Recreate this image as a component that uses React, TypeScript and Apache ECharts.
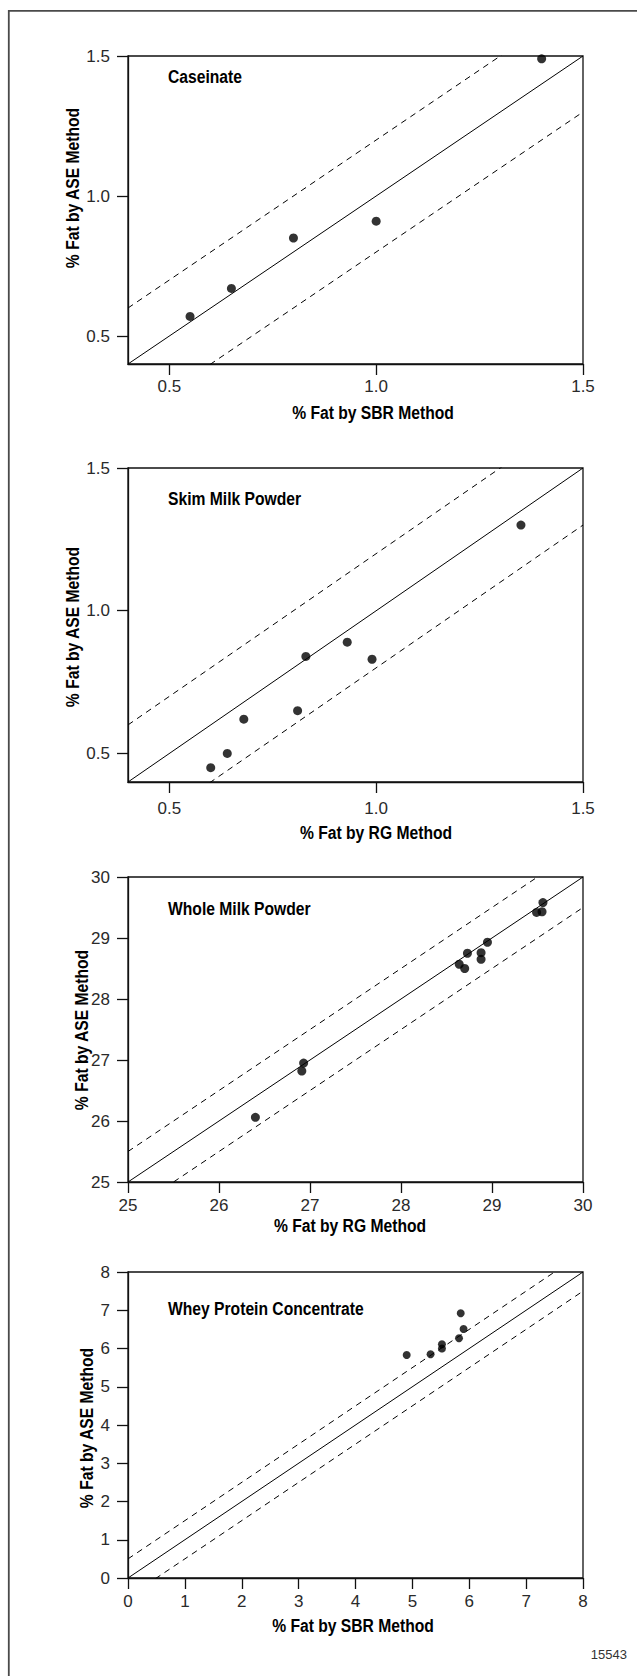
import React, { useEffect, useRef } from "react";
import * as echarts from "echarts";

// ---------- data ----------
const panelTitles = ["Caseinate", "Skim Milk Powder", "Whole Milk Powder", "Whey Protein Concentrate"];
const xAxisTitles = ["% Fat by SBR Method", "% Fat by RG Method", "% Fat by RG Method", "% Fat by SBR Method"];
const yAxisTitle = "% Fat by ASE Method";
const footnote = "15543";

const axisMin = [0.4, 0.4, 25, 0];
const axisMax = [1.5, 1.5, 30, 8];
const tickValues = [
  [0.5, 1.0, 1.5],
  [0.5, 1.0, 1.5],
  [25, 26, 27, 28, 29, 30],
  [0, 1, 2, 3, 4, 5, 6, 7, 8],
];
const tickDecimals = [1, 1, 0, 0];
const limitOffsets = [0.2, 0.2, 0.5, 0.5];

const caseinateSBR = [0.55, 0.65, 0.8, 1.0, 1.4];
const caseinateASE = [0.57, 0.67, 0.85, 0.91, 1.49];

const skimRG = [0.6, 0.64, 0.68, 0.81, 0.83, 0.93, 0.99, 1.35];
const skimASE = [0.45, 0.5, 0.62, 0.65, 0.84, 0.89, 0.83, 1.3];

const wholeRG = [26.4, 26.91, 26.93, 28.64, 28.7, 28.73, 28.88, 28.88, 28.95, 29.49, 29.55, 29.56];
const wholeASE = [26.06, 26.82, 26.95, 28.57, 28.5, 28.75, 28.76, 28.65, 28.93, 29.42, 29.43, 29.58];

const wheySBR = [4.9, 5.32, 5.52, 5.52, 5.82, 5.9, 5.85];
const wheyASE = [5.83, 5.85, 6.11, 6.0, 6.27, 6.51, 6.92];

const xSeries = [caseinateSBR, skimRG, wholeRG, wheySBR];
const ySeries = [caseinateASE, skimASE, wholeASE, wheyASE];

// ---------- layout / style ----------
const FONT = "'Liberation Sans', Arial, sans-serif";
const CONDENSE = 0.87;
const GRID_LEFT = 128;
const GRID_WIDTH = 455;
const gridTops = [56, 468, 877, 1272];
const gridHeights = [308, 314, 305, 306];
const xLabelMargins = [14, 18, 15, 15];
const xTitlePos = [
  [373, 413.5],
  [376, 833.5],
  [350, 1226],
  [353, 1626],
];
const yTitlePos = [
  [73.5, 188],
  [73, 627],
  [82, 1030],
  [87, 1428],
];
const titleLeft = 168;
const titleCenters = [77, 499, 909, 1309];
const symbolSizes = [9, 9, 9, 8];
const AXIS_COLOR = "#111";

function boldText(text: string, x: number, y: number, align: string, rotation = 0) {
  return {
    type: "text",
    x,
    y,
    rotation,
    scaleX: CONDENSE,
    silent: true,
    style: {
      text,
      fill: "#000",
      fontFamily: FONT,
      fontSize: 18,
      fontWeight: "bold",
      align,
      verticalAlign: "middle",
    },
  };
}

function buildOption(): echarts.EChartsOption {
  const grid: any[] = [];
  const xAxis: any[] = [];
  const yAxis: any[] = [];
  const series: any[] = [];
  const graphic: any[] = [];

  for (let i = 0; i < 4; i++) {
    const min = axisMin[i];
    const max = axisMax[i];
    const dec = tickDecimals[i];
    grid.push({
      left: GRID_LEFT,
      top: gridTops[i],
      width: GRID_WIDTH,
      height: gridHeights[i],
      show: true,
      borderColor: AXIS_COLOR,
      borderWidth: 1.3,
      backgroundColor: "transparent",
      containLabel: false,
      outerBoundsMode: "none",
    });
    const common = {
      type: "value",
      gridIndex: i,
      min,
      max,
      splitLine: { show: false },
      axisLine: { show: true, onZero: false, lineStyle: { color: AXIS_COLOR, width: 1.3 } },
      axisTick: {
        show: true,
        inside: false,
        length: 11,
        customValues: tickValues[i],
        lineStyle: { color: AXIS_COLOR, width: 1.3 },
      },
    };
    const labelStyle = {
      show: true,
      customValues: tickValues[i],
      formatter: (v: number) => Number(v).toFixed(dec),
      fontFamily: FONT,
      fontSize: 17,
      color: "#2a2a2a",
    };
    xAxis.push({
      ...common,
      position: "bottom",
      axisLabel: { ...labelStyle, margin: xLabelMargins[i] },
    });
    yAxis.push({
      ...common,
      position: "left",
      axisLabel: { ...labelStyle, margin: 18 },
    });

    // identity line and +/- limits
    const offs = [0, limitOffsets[i], -limitOffsets[i]];
    offs.forEach((o, k) => {
      series.push({
        type: "line",
        xAxisIndex: i,
        yAxisIndex: i,
        data: [
          [min, min + o],
          [max, max + o],
        ],
        symbol: "none",
        clip: true,
        silent: true,
        z: 2,
        lineStyle: { color: "#000", width: 1, type: k === 0 ? "solid" : [6, 5] },
      });
    });

    series.push({
      type: "scatter",
      xAxisIndex: i,
      yAxisIndex: i,
      data: xSeries[i].map((x, j) => [x, ySeries[i][j]]),
      symbol: "circle",
      symbolSize: symbolSizes[i],
      itemStyle: { color: "#000" },
      z: 3,
    });

    graphic.push(boldText(panelTitles[i], titleLeft, titleCenters[i], "left"));
    graphic.push(boldText(xAxisTitles[i], xTitlePos[i][0], xTitlePos[i][1], "center"));
    graphic.push(boldText(yAxisTitle, yTitlePos[i][0], yTitlePos[i][1], "center", Math.PI / 2));
  }

  graphic.push(
    {
      type: "line",
      shape: { x1: 8.8, y1: 10, x2: 8.8, y2: 1676 },
      style: { stroke: "#4a4a4a", lineWidth: 1.8 },
    },
    {
      type: "line",
      shape: { x1: 8, y1: 10.8, x2: 637, y2: 10.8 },
      style: { stroke: "#4a4a4a", lineWidth: 1.8 },
    },
    {
      type: "text",
      x: 627,
      y: 1654,
      style: {
        text: footnote,
        fill: "#333",
        fontFamily: FONT,
        fontSize: 13,
        align: "right",
        verticalAlign: "middle",
      },
    }
  );

  return {
    animation: false,
    backgroundColor: "#fff",
    grid,
    xAxis,
    yAxis,
    series,
    graphic,
  } as any;
}

export default function App() {
  const ref = useRef<HTMLDivElement>(null);
  useEffect(() => {
    document.body.style.margin = "0";
    if (!ref.current) return;
    const chart = echarts.init(ref.current, undefined, { renderer: "svg" });
    chart.setOption(buildOption());
    return () => chart.dispose();
  }, []);
  return <div ref={ref} style={{ width: 637, height: 1676 }} />;
}
